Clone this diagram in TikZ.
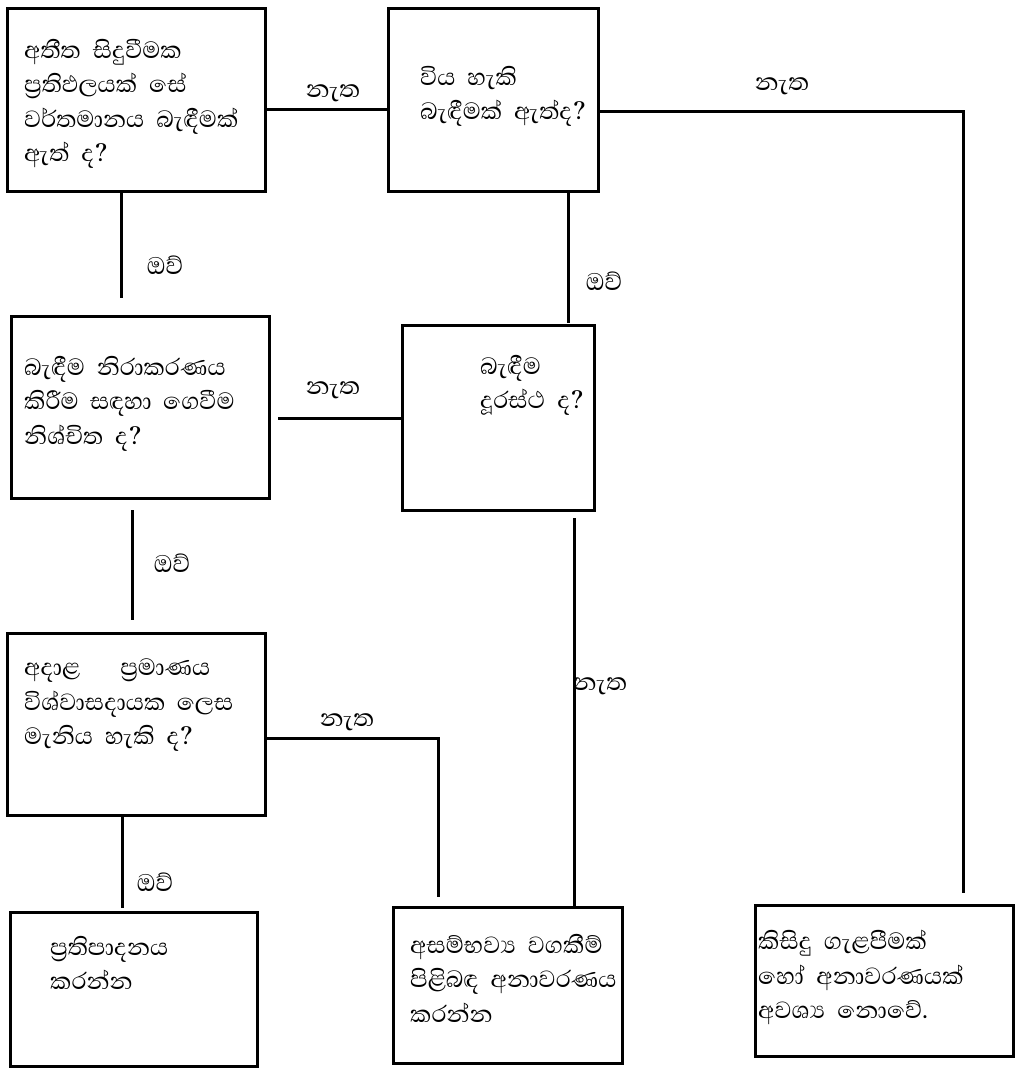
\documentclass[tikz,border=0pt]{standalone}
\usepackage{fontspec}
\setmainfont[Script=Sinhala]{Abhaya Libre}
% wide gap between words inside the boxes
\newcommand\wsp{\hspace{12pt}}
\begin{document}
\begin{tikzpicture}[x=1pt,y=-1pt,
  box/.style={draw, line width=3pt, inner sep=0pt},
  conn/.style={line width=3pt},
  txt/.style={anchor=north west, align=left, inner sep=0pt,
    font=\fontsize{30}{34.5}\selectfont},
  lbl/.style={inner sep=0pt, font=\fontsize{31}{32}\selectfont}]
\useasboundingbox[fill=white] (0,0) rectangle (1017,1068);

% decision and outcome boxes
\node[box, minimum width=258pt, minimum height=183pt] (A) at (136,99.5) {};
\node[box, minimum width=210pt, minimum height=183pt] (B) at (493,99.5) {};
\node[box, minimum width=258pt, minimum height=182pt] (C) at (140,407) {};
\node[box, minimum width=192pt, minimum height=185pt] (D) at (498,417.5) {};
\node[box, minimum width=258pt, minimum height=182pt] (E) at (136,724) {};
\node[box, minimum width=247pt, minimum height=154pt] (F) at (133.5,989) {};
\node[box, minimum width=229pt, minimum height=156pt] (G) at (507.5,985) {};
\node[box, minimum width=258pt, minimum height=151pt] (H) at (884,980.5) {};

% box texts
\node[txt] (At) at (24,39) {අතීත\wsp සිදුවීමක\\ප්^^^^200dරතිඵලයක්\wsp සේ\\වර්තමානය\wsp බැඳීමක්\\ඇත්\wsp ද?};
\node[txt] (Bt) at (420,66) {විය\wsp හැකි\\බැඳීමක්\wsp ඇත්ද?};
\node[txt] (Ct) at (24,356) {බැඳීම\wsp නිරාකරණය\\කිරීම~~සඳහා~~ගෙවීම\\නිශ්චිත\wsp ද?};
\node[txt] (Dt) at (480,355) {බැඳීම\\දූරස්ථ\wsp ද?};
\node[txt] (Et) at (24,659) {අදාළ\hspace{40pt}ප්^^^^200dරමාණය\\විශ්වාසදායක~~ලෙස\\මැනිය\wsp හැකි\wsp ද?};
\node[txt] (Ft) at (50,936) {ප්^^^^200dරතිපාදනය\\කරන්න};
\node[txt] (Gt) at (410,934) {අසම්භව්^^^^200dය\wsp වගකීම්\\පිළිබඳ\wsp අනාවරණය\\කරන්න};
\node[txt] (Ht) at (758,930) {කිසිදු\wsp ගැළපීමක්\\හෝ\wsp අනාවරණයක්\\අවශ්^^^^200dය\wsp නොවේ.};

% free ends of connectors
\coordinate (tr) at (963,111);
\coordinate (hEnd) at (963,893);
\coordinate (aEnd) at (121,298);
\coordinate (bEnd) at (568,323);
\coordinate (cStart) at (278,418);
\coordinate (cTop) at (132,510);
\coordinate (cEnd) at (132,620);
\coordinate (dTop) at (574,518);
\coordinate (eCorner) at (438,738);
\coordinate (gEnd) at (438,897);
\coordinate (eEnd) at (122,908);

% connectors
\draw[conn] (A.east |- 0,109) -- (B.west |- 0,109);
\draw[conn] (B.east |- tr) -- (tr) -- (hEnd);
\draw[conn] (A.south -| aEnd) -- (aEnd);
\draw[conn] (B.south -| bEnd) -- (bEnd);
\draw[conn] (cStart) -- (D.west |- cStart);
\draw[conn] (cTop) -- (cEnd);
\draw[conn] (dTop) -- (G.north -| dTop);
\draw[conn] (E.east |- eCorner) -- (eCorner) -- (gEnd);
\draw[conn] (E.south -| eEnd) -- (eEnd);

% branch labels
\node[lbl] (l1) at (333,93) {නැත};
\node[lbl] (l2) at (782,86) {නැත};
\node[lbl] (l3) at (165,265) {ඔව්};
\node[lbl] (l4) at (604,281) {ඔව්};
\node[lbl] (l5) at (333,390) {නැත};
\node[lbl] (l6) at (172,563) {ඔව්};
\node[lbl] (l7) at (600,686) {නැත};
\node[lbl] (l8) at (347,722) {නැත};
\node[lbl] (l9) at (155,882) {ඔව්};
\end{tikzpicture}
\end{document}
